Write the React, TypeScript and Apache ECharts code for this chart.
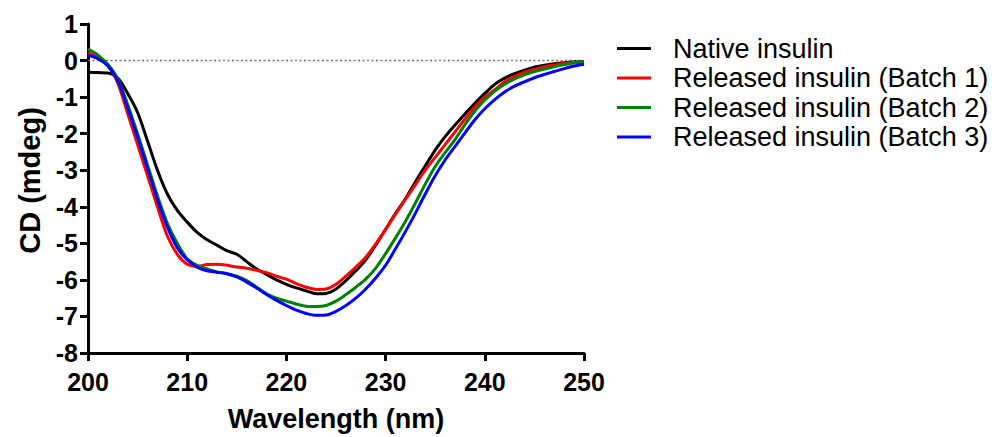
import React, { useEffect, useRef } from "react";
import * as echarts from "echarts";

const wavelengths = [
  200, 201, 202, 203, 204, 205, 206, 207, 208, 209, 210, 211, 212, 213, 214, 215, 216, 217, 218, 219, 220,
  221, 222, 223, 224, 225, 226, 227, 228, 229, 230, 231, 232, 233, 234, 235, 236, 237, 238, 239, 240,
  241, 242, 243, 244, 245, 246, 247, 248, 249, 250,
];

const nativeInsulin = [
  -0.32, -0.33, -0.34, -0.48, -0.9, -1.42, -2.2, -3.0, -3.65, -4.1, -4.42, -4.7, -4.9, -5.05, -5.2, -5.3, -5.5, -5.7, -5.85, -6.0, -6.12,
  -6.22, -6.3, -6.38, -6.37, -6.25, -6.02, -5.75, -5.45, -5.05, -4.62, -4.18, -3.78, -3.32, -2.88, -2.45, -2.08, -1.76, -1.46, -1.17, -0.9,
  -0.65, -0.48, -0.36, -0.26, -0.18, -0.13, -0.09, -0.06, -0.04, -0.03,
];

const batch1 = [
  0.2, 0.1, -0.12, -0.62, -1.45, -2.3, -3.15, -4.0, -4.8, -5.3, -5.57, -5.63, -5.58, -5.57, -5.6, -5.65, -5.68, -5.74, -5.8, -5.9, -5.98,
  -6.1, -6.2, -6.26, -6.25, -6.12, -5.9, -5.65, -5.38, -5.02, -4.62, -4.2, -3.8, -3.4, -3.0, -2.65, -2.3, -1.95, -1.6, -1.27, -1.0,
  -0.8, -0.58, -0.43, -0.32, -0.24, -0.17, -0.12, -0.08, -0.05, -0.03,
];

const batch2 = [
  0.32, 0.15, -0.1, -0.5, -1.2, -2.0, -2.85, -3.7, -4.45, -5.0, -5.42, -5.6, -5.7, -5.78, -5.83, -5.9, -6.02, -6.2, -6.38, -6.5, -6.58,
  -6.66, -6.72, -6.73, -6.7, -6.58, -6.4, -6.2, -5.98, -5.68, -5.28, -4.85, -4.4, -3.9, -3.38, -2.9, -2.52, -2.16, -1.75, -1.38, -1.08,
  -0.84, -0.65, -0.5, -0.39, -0.3, -0.23, -0.17, -0.11, -0.06, -0.03,
];

const batch3 = [
  0.15, 0.05, -0.15, -0.55, -1.3, -2.1, -2.95, -3.8, -4.55, -5.12, -5.45, -5.65, -5.75, -5.79, -5.83, -5.92, -6.06, -6.22, -6.4, -6.56, -6.7,
  -6.83, -6.92, -6.97, -6.96, -6.86, -6.7, -6.5, -6.25, -5.95, -5.6, -5.15, -4.68, -4.18, -3.65, -3.15, -2.72, -2.35, -1.98, -1.62, -1.32,
  -1.07, -0.86, -0.7, -0.58, -0.47, -0.38, -0.3, -0.22, -0.15, -0.1,
];

const seriesNames = [
  "Native insulin",
  "Released insulin (Batch 1)",
  "Released insulin (Batch 2)",
  "Released insulin (Batch 3)",
];
const seriesColors = ["#000000", "#ff0000", "#008000", "#0000ff"];
const seriesValues = [nativeInsulin, batch1, batch2, batch3];

const baselineX = [200, 250];
const baselineY = [0, 0];

const FONT = "'Liberation Sans', Arial, Helvetica, sans-serif";

export default function App() {
  const ref = useRef<HTMLDivElement>(null);

  useEffect(() => {
    if (!ref.current) return;
    const chart = echarts.init(ref.current, null, { renderer: "svg" });

    const series: any[] = [
      {
        name: "baseline",
        type: "line",
        data: baselineX.map((x, i) => [x, baselineY[i]]),
        showSymbol: false,
        symbol: "none",
        silent: true,
        lineStyle: { color: "#707070", type: [2, 2.5], width: 1.6, cap: "butt" },
        itemStyle: { color: "#707070" },
        z: 1,
      },
      ...seriesValues.map((vals, i) => ({
        name: seriesNames[i],
        type: "line",
        data: wavelengths.map((w, j) => [w, vals[j]]),
        showSymbol: false,
        symbol: "none",
        smooth: 0.3,
        lineStyle: { color: seriesColors[i], width: 3 },
        itemStyle: { color: seriesColors[i] },
        z: 3 + i,
      })),
    ];

    chart.setOption({
      animation: false,
      backgroundColor: "#ffffff",
      textStyle: { fontFamily: FONT },
      grid: { left: 88, right: 415, top: 24, bottom: 83 },
      legend: {
        orient: "vertical",
        left: 612,
        top: 30,
        icon: "rect",
        itemWidth: 34,
        itemHeight: 3,
        itemGap: 2.5,
        data: seriesNames,
        textStyle: { fontFamily: FONT, fontSize: 27, color: "#000", padding: [0, 0, 0, 17], lineHeight: 27 },
      },
      xAxis: {
        type: "value",
        min: 200,
        max: 250,
        interval: 10,
        name: "Wavelength (nm)",
        nameLocation: "middle",
        nameGap: 52,
        nameTextStyle: { fontFamily: FONT, fontSize: 27, fontWeight: "bold", color: "#000" },
        axisLine: { show: true, onZero: false, lineStyle: { color: "#000", width: 3 } },
        axisTick: { show: true, inside: false, length: 8, lineStyle: { color: "#000", width: 3 } },
        axisLabel: { fontFamily: FONT, fontSize: 25, fontWeight: "bold", color: "#000", margin: 16 },
        splitLine: { show: false },
      },
      yAxis: {
        type: "value",
        min: -8,
        max: 1,
        interval: 1,
        name: "CD (mdeg)",
        nameLocation: "middle",
        nameGap: 44,
        nameRotate: 90,
        nameTextStyle: { fontFamily: FONT, fontSize: 29, fontWeight: "bold", color: "#000", padding: [0, 0, 0, 16] },
        axisLine: { show: true, onZero: false, lineStyle: { color: "#000", width: 3 } },
        axisTick: { show: true, inside: false, length: 8, lineStyle: { color: "#000", width: 3 } },
        axisLabel: { fontFamily: FONT, fontSize: 25, fontWeight: "bold", color: "#000", margin: 10 },
        splitLine: { show: false },
      },
      series,
    });

    return () => chart.dispose();
  }, []);

  return (
    <div
      ref={ref}
      style={{ position: "fixed", left: 0, top: 0, width: 999, height: 437, background: "#fff" }}
    />
  );
}
